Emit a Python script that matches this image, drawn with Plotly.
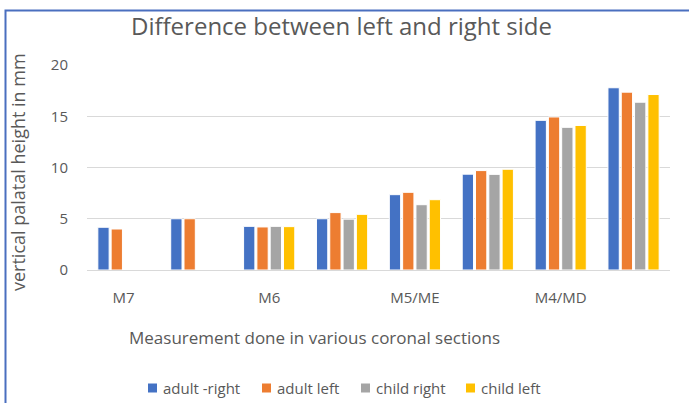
import plotly.graph_objects as go

categories = ["M7", "", "M6", "", "M5/ME", "", "M4/MD", ""]
adult_right = [4.17, 5.0, 4.26, 5.0, 7.35, 9.35, 14.6, 17.78]
adult_left = [4.0, 5.0, 4.2, 5.6, 7.58, 9.7, 14.93, 17.35]
child_right = [None, None, 4.26, 4.96, 6.37, 9.33, 13.92, 16.37]
child_left = [None, None, 4.23, 5.43, 6.86, 9.83, 14.1, 17.12]
series_names = ["adult -right", "adult left", "child right", "child left"]
colors = ["#4472C4", "#ED7D31", "#A5A5A5", "#FFC000"]
y_ticks = [0, 5, 10, 15, 20]

FONT = "Open Sans"
GRAY = "#595959"

xs = list(range(len(categories)))
fig = go.Figure()
for name, vals, col in zip(series_names, [adult_right, adult_left, child_right, child_left], colors):
    fig.add_trace(go.Bar(x=xs, y=vals, name=name, showlegend=False,
                         marker=dict(color=col, line=dict(color="white", width=1))))

W, H = 689, 403
L, R, T, B = 87, 670, 65, 270

def px(x):
    return (x - L) / (R - L)

def py(y):
    return (B - y) / (B - T)

fig.update_layout(
    width=W, height=H,
    margin=dict(l=L, r=W - R, t=T, b=H - B, pad=0, autoexpand=False),
    paper_bgcolor="white", plot_bgcolor="white",
    barmode="group", bargap=0.27, bargroupgap=0.15,
    font=dict(family=FONT, color=GRAY),
    xaxis=dict(tickmode="array", tickvals=xs, ticktext=categories, range=[-0.5, 7.5],
               showgrid=False, showline=False, zeroline=False, ticks="",
               tickfont=dict(size=15, color=GRAY, family=FONT), ticklabelstandoff=17),
    yaxis=dict(range=[0, 20], tickvals=y_ticks, showgrid=True, gridcolor="#D9D9D9", gridwidth=1,
               zeroline=True, zerolinecolor="#D9D9D9", zerolinewidth=1, showline=False, ticks="",
               tickfont=dict(size=15, color=GRAY, family=FONT), ticklabelstandoff=18),
)

fig.add_annotation(text="Difference between left and right side", xref="paper", yref="paper",
                   x=px(341), y=py(25), xanchor="center", yanchor="middle", showarrow=False,
                   font=dict(size=24, color=GRAY, family=FONT))
fig.add_annotation(text="vertical palatal height in mm", xref="paper", yref="paper",
                   x=px(18), y=py(172), xanchor="center", yanchor="middle", textangle=-90, showarrow=False,
                   font=dict(size=18, color=GRAY, family=FONT))
fig.add_annotation(text="Measurement done in various coronal sections", xref="paper", yref="paper",
                   x=px(127), y=py(337), xanchor="left", yanchor="middle", showarrow=False,
                   font=dict(size=17, color=GRAY, family=FONT))

# legend (Excel style: small square + text)
legend_text_x = [163, 277, 376, 481]
legend_y = 388
for name, col, tx in zip(series_names, colors, legend_text_x):
    fig.add_shape(type="rect", xref="paper", yref="paper", x0=px(tx - 15), x1=px(tx - 6),
                  y0=py(legend_y + 4.5), y1=py(legend_y - 4.5), line=dict(width=0), fillcolor=col)
    fig.add_annotation(text=name, xref="paper", yref="paper", x=px(tx - 2), y=py(legend_y),
                       xanchor="left", yanchor="middle", showarrow=False,
                       font=dict(size=15, color=GRAY, family=FONT))

# blue frame
fig.add_shape(type="rect", xref="paper", yref="paper", x0=px(5.5), x1=px(720), y0=py(440), y1=py(10.5),
              line=dict(color="#4A6FBF", width=2), fillcolor="rgba(0,0,0,0)", layer="above")

fig.write_html("out.html")
